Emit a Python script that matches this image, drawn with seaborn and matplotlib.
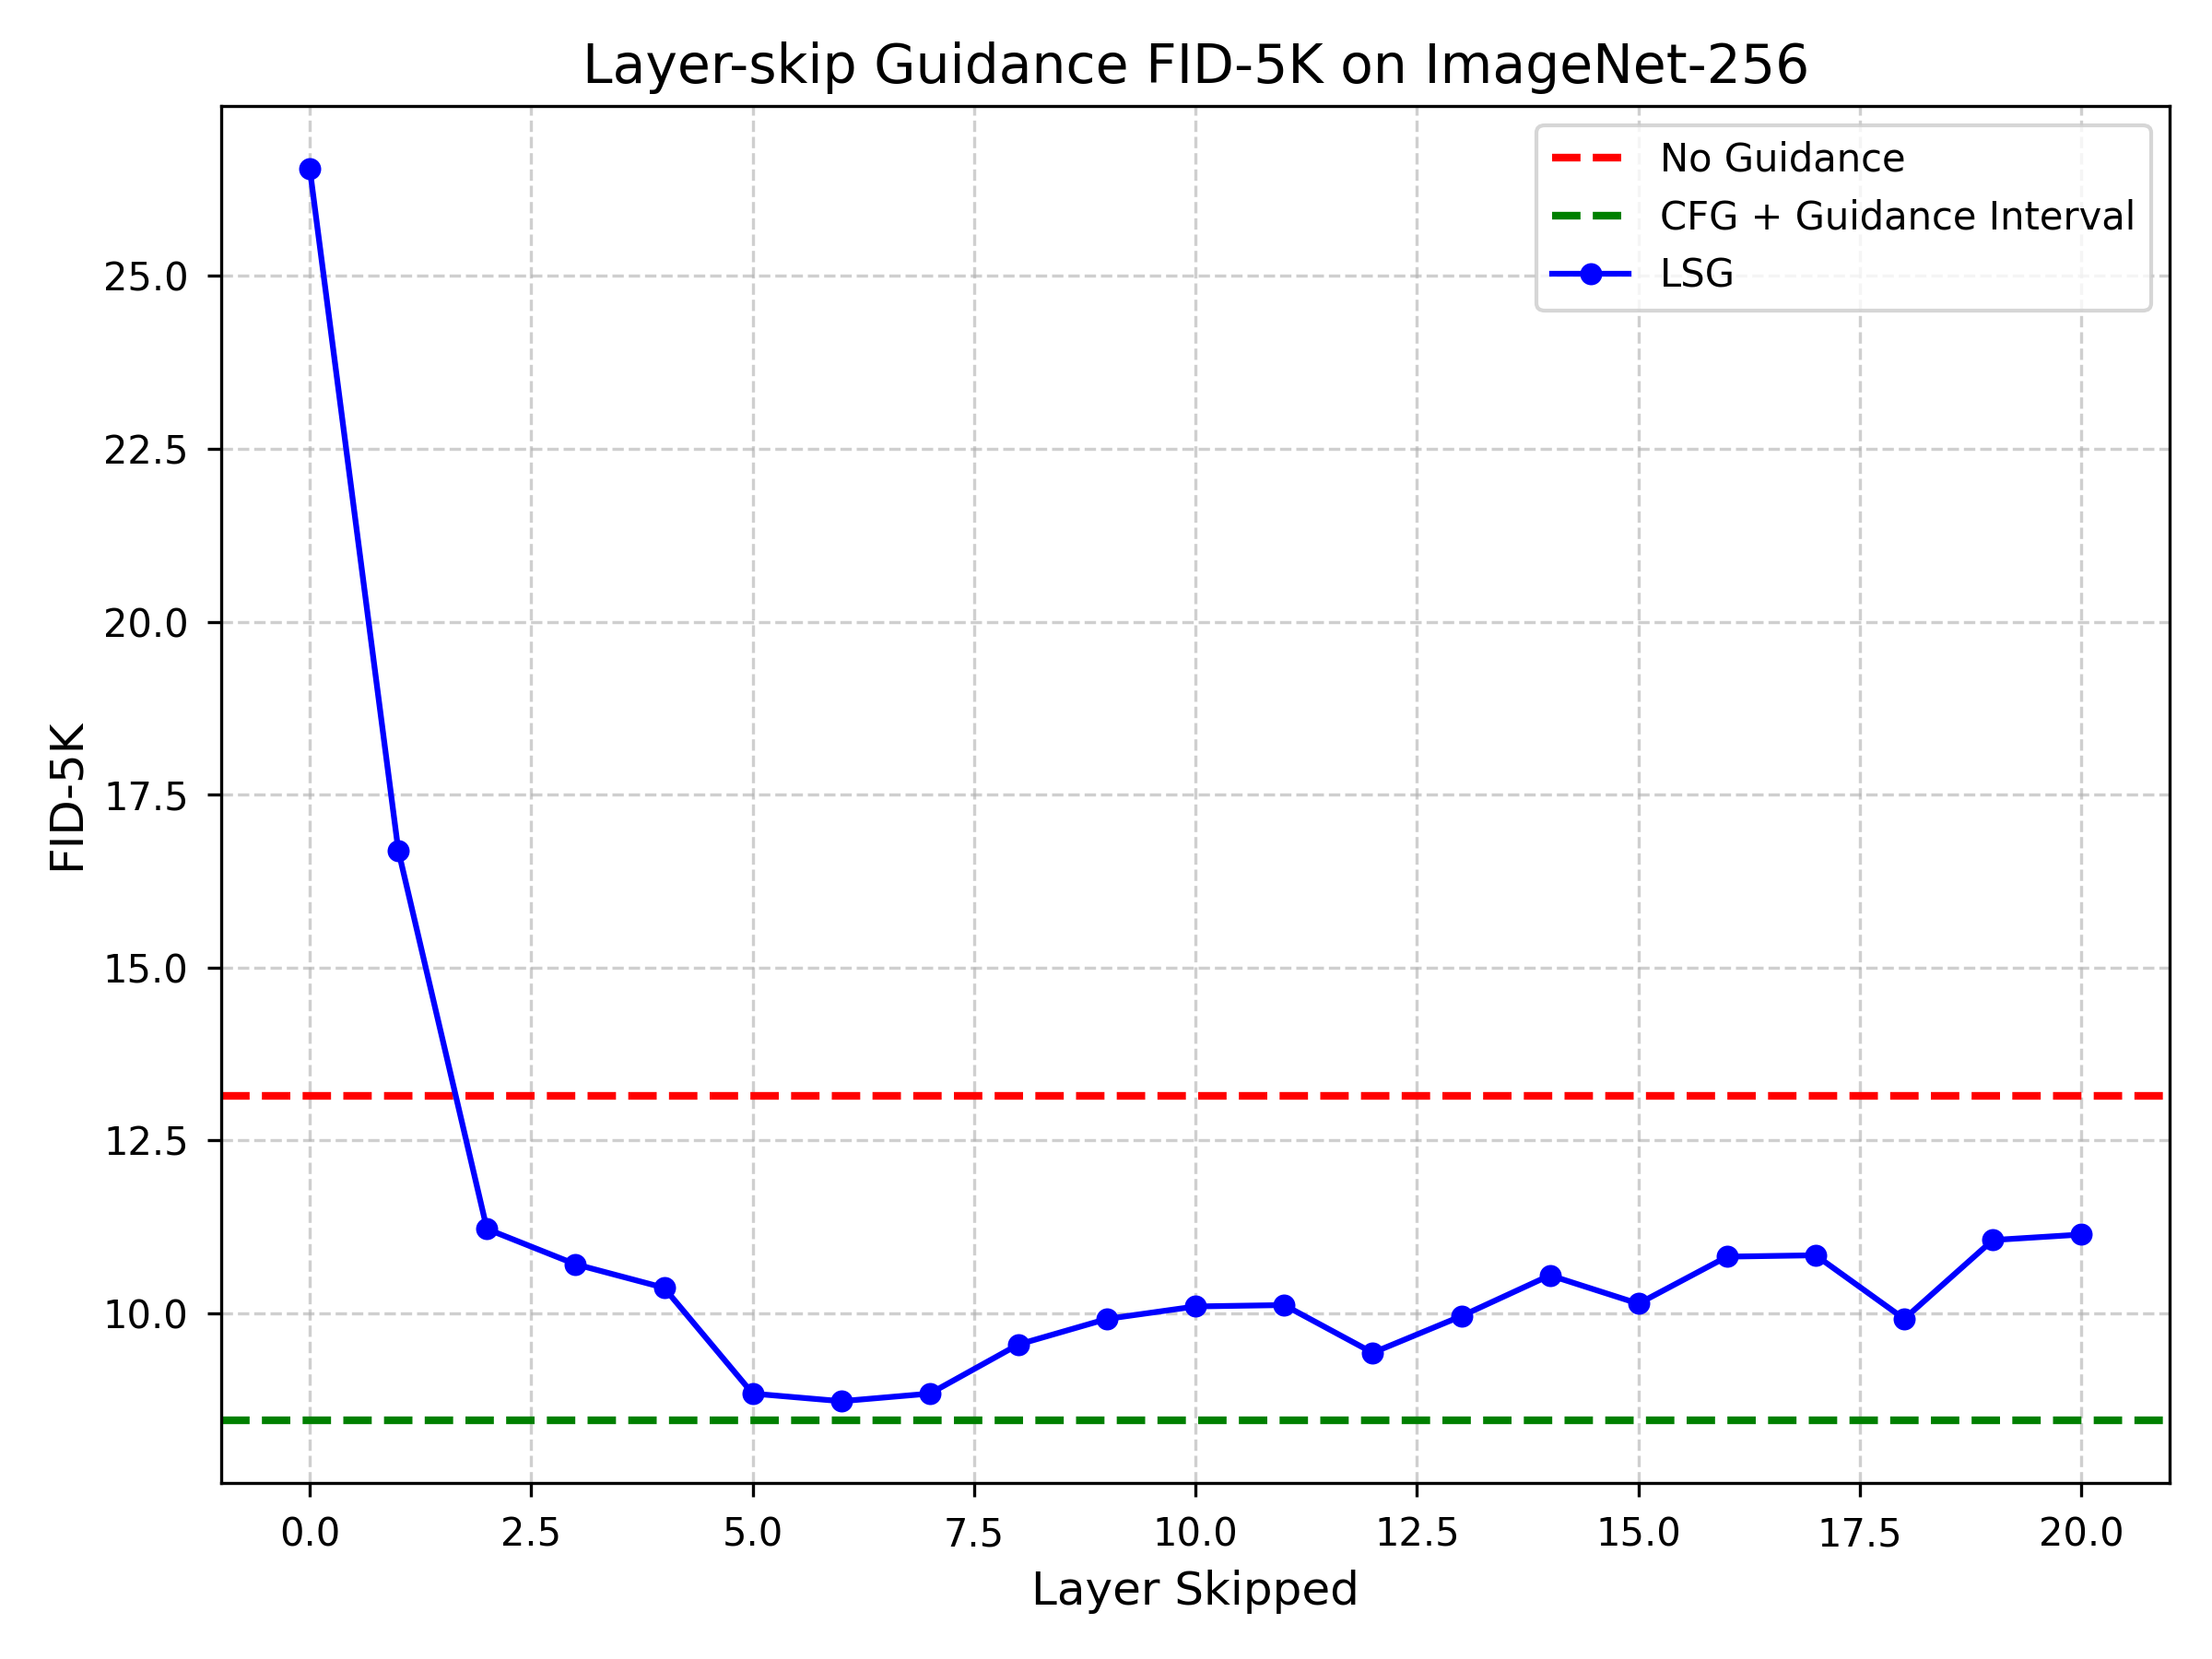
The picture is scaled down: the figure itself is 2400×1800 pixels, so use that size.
import numpy as np
import pandas as pd
import seaborn as sns
import matplotlib
matplotlib.use('Agg')
import matplotlib.pyplot as plt

# layer skipped vs FID-5K
layers = list(range(21))
fid_lsg = [26.55, 16.69, 11.22, 10.71, 10.37, 8.84, 8.73, 8.84, 9.55, 9.92,
           10.10, 10.12, 9.43, 9.96, 10.55, 10.14, 10.82, 10.84, 9.92, 11.06, 11.14]
no_guidance = 13.14
cfg_interval = 8.45

df = pd.DataFrame({'layer': layers, 'fid': fid_lsg})

fig, ax = plt.subplots(figsize=(8, 6), dpi=300)

ax.axhline(no_guidance, color='red', linestyle='--', linewidth=2, label='No Guidance')
ax.axhline(cfg_interval, color='green', linestyle='--', linewidth=2, label='CFG + Guidance Interval')
sns.lineplot(data=df, x='layer', y='fid', color='blue', marker='o', markersize=5,
             markeredgecolor='blue', linewidth=1.5, label='LSG', ax=ax)

ax.set_title('Layer-skip Guidance FID-5K on ImageNet-256', fontsize=14)
ax.set_xlabel('Layer Skipped', fontsize=12)
ax.set_ylabel('FID-5K', fontsize=12)
ax.tick_params(pad=5)
ax.grid(True, linestyle='--', alpha=0.6)
ax.legend(loc='upper right')

plt.subplots_adjust(left=0.100, right=0.981, bottom=0.106, top=0.936)
plt.savefig('out.png', dpi=300)
